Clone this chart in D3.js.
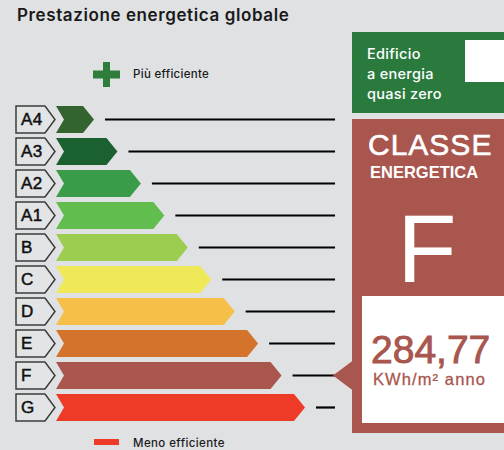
<!DOCTYPE html>
<html>
<head>
<meta charset="utf-8">
<script src="https://cdn.jsdelivr.net/npm/d3@7"></script>
<style>
  html, body { margin: 0; padding: 0; background: #e0e1e3; }
  svg { display: block; }
</style>
</head>
<body>
<div id="chart"></div>
<script>
// energy classes, best to worst
const classes = ['A4', 'A3', 'A2', 'A1', 'B', 'C', 'D', 'E', 'F', 'G'];
const classColors = ['#33632e', '#1b6130', '#3a9c48', '#62bd4f', '#9ccc50',
                     '#efe858', '#f5bf48', '#d4732c', '#a8564e', '#ee3b28'];
// relative arrow lengths (rank along the scale)
const classRank = [0, 1, 2, 3, 4, 5, 6, 7, 8, 9];

const currentClass = 'F';
const currentValue = '284,77';
const currentUnit = 'KWh/m² anno';
const nzebLines = ['Edificio', 'a energia', 'quasi zero'];

const width = 504, height = 450;
const sans = '"Liberation Sans", Arial, sans-serif';
const geo = 'Inter, "Noto Sans", sans-serif';

const svg = d3.select('#chart').append('svg')
  .attr('width', width).attr('height', height);

svg.append('rect').attr('width', width).attr('height', height).attr('fill', '#e0e1e3');

// title
svg.append('text')
  .attr('x', 17).attr('y', 21)
  .attr('font-family', geo).attr('font-size', 17).attr('font-weight', 600)
  .attr('letter-spacing', 0.6)
  .attr('fill', '#1a1a1a')
  .text('Prestazione energetica globale');

// scales
const y = d3.scaleBand().domain(classes).range([103.5, 423.5])
  .paddingInner(0.16).paddingOuter(0.08);
const x = d3.scaleLinear().domain([0, 9]).range([94, 305]);
const color = d3.scaleOrdinal().domain(classes).range(classColors);
const rankOf = new Map(classes.map((c, i) => [c, classRank[i]]));

// "più efficiente" marker
const plus = svg.append('g').attr('fill', '#2e7d3a');
plus.append('rect').attr('x', 103).attr('y', 62).attr('width', 7).attr('height', 25);
plus.append('rect').attr('x', 93).attr('y', 70.5).attr('width', 27).attr('height', 8);
svg.append('text')
  .attr('x', 133).attr('y', 78)
  .attr('font-family', geo).attr('font-size', 11.5).attr('font-weight', 500)
  .attr('letter-spacing', 0.3)
  .attr('fill', '#1a1a1a')
  .text('Più efficiente');

// "meno efficiente" marker
svg.append('rect').attr('x', 94).attr('y', 439).attr('width', 25).attr('height', 6)
  .attr('fill', '#ee3b28');
svg.append('text')
  .attr('x', 133).attr('y', 447)
  .attr('font-family', geo).attr('font-size', 11.5).attr('font-weight', 500)
  .attr('letter-spacing', 0.4)
  .attr('fill', '#1a1a1a')
  .text('Meno efficiente');

const rows = svg.append('g').selectAll('g')
  .data(classes)
  .join('g')
  .attr('transform', d => `translate(0,${y(d)})`);

const h = y.bandwidth();

// label tags
rows.append('path')
  .attr('d', `M16,0 H45 L55,${h / 2} L45,${h} H16 Z`)
  .attr('fill', '#e3e4e6')
  .attr('stroke', '#3c3c3c')
  .attr('stroke-width', 1.5);
rows.append('text')
  .attr('x', 21).attr('y', h / 2 + 6)
  .attr('font-family', sans).attr('font-size', 17)
  .attr('letter-spacing', 0.5)
  .attr('fill', '#111').attr('stroke', '#111').attr('stroke-width', 0.5)
  .text(d => d);

// arrows
rows.append('path')
  .attr('d', d => {
    const tip = x(rankOf.get(d));
    return `M56,0 H${tip - 11} L${tip},${h / 2} L${tip - 11},${h} H56 L64,${h / 2} Z`;
  })
  .attr('fill', d => color(d));

// leader lines
rows.append('line')
  .attr('x1', d => x(rankOf.get(d)) + 11)
  .attr('x2', 335)
  .attr('y1', h / 2).attr('y2', h / 2)
  .attr('stroke', '#000')
  .attr('stroke-width', 2.2);

// NZEB box
svg.append('rect').attr('x', 352).attr('y', 32).attr('width', 152).attr('height', 81)
  .attr('fill', '#2a7a3e');
svg.append('rect').attr('x', 465).attr('y', 40).attr('width', 39).attr('height', 42)
  .attr('fill', '#ffffff');
svg.append('g').selectAll('text')
  .data(nzebLines)
  .join('text')
  .attr('x', 367)
  .attr('y', (d, i) => 59 + i * 20)
  .attr('font-family', geo).attr('font-size', 14.5).attr('font-weight', 500)
  .attr('letter-spacing', 0.3)
  .attr('fill', '#ffffff')
  .text(d => d);

// class panel
const panelColor = color(currentClass);
const cy = y(currentClass) + h / 2;
svg.append('rect').attr('x', 352).attr('y', 119).attr('width', 152).attr('height', 314)
  .attr('fill', panelColor);
svg.append('path')
  .attr('d', `M333,${cy} L353,${cy - 15} L353,${cy + 15} Z`)
  .attr('fill', panelColor);
svg.append('rect').attr('x', 362).attr('y', 296).attr('width', 142).attr('height', 127)
  .attr('fill', '#ffffff');

svg.append('text')
  .attr('x', 368).attr('y', 155)
  .attr('font-family', sans).attr('font-size', 30)
  .attr('letter-spacing', 1)
  .attr('fill', '#ffffff').attr('stroke', '#ffffff').attr('stroke-width', 0.6)
  .text('CLASSE');
svg.append('text')
  .attr('x', 370).attr('y', 178)
  .attr('font-family', sans).attr('font-size', 16.5).attr('font-weight', 700)
  .attr('fill', '#ffffff')
  .text('ENERGETICA');
svg.append('text')
  .attr('x', 427).attr('y', 282)
  .attr('text-anchor', 'middle')
  .attr('font-family', sans).attr('font-size', 97)
  .attr('fill', '#ffffff')
  .text(currentClass);

svg.append('text')
  .attr('x', 371).attr('y', 363)
  .attr('font-family', sans).attr('font-size', 39)
  .attr('fill', panelColor).attr('stroke', panelColor).attr('stroke-width', 0.9)
  .text(currentValue);
svg.append('text')
  .attr('x', 373).attr('y', 385)
  .attr('font-family', sans).attr('font-size', 16.5)
  .attr('letter-spacing', 1.1)
  .attr('fill', panelColor).attr('stroke', panelColor).attr('stroke-width', 0.3)
  .text(currentUnit);
</script>
</body>
</html>
